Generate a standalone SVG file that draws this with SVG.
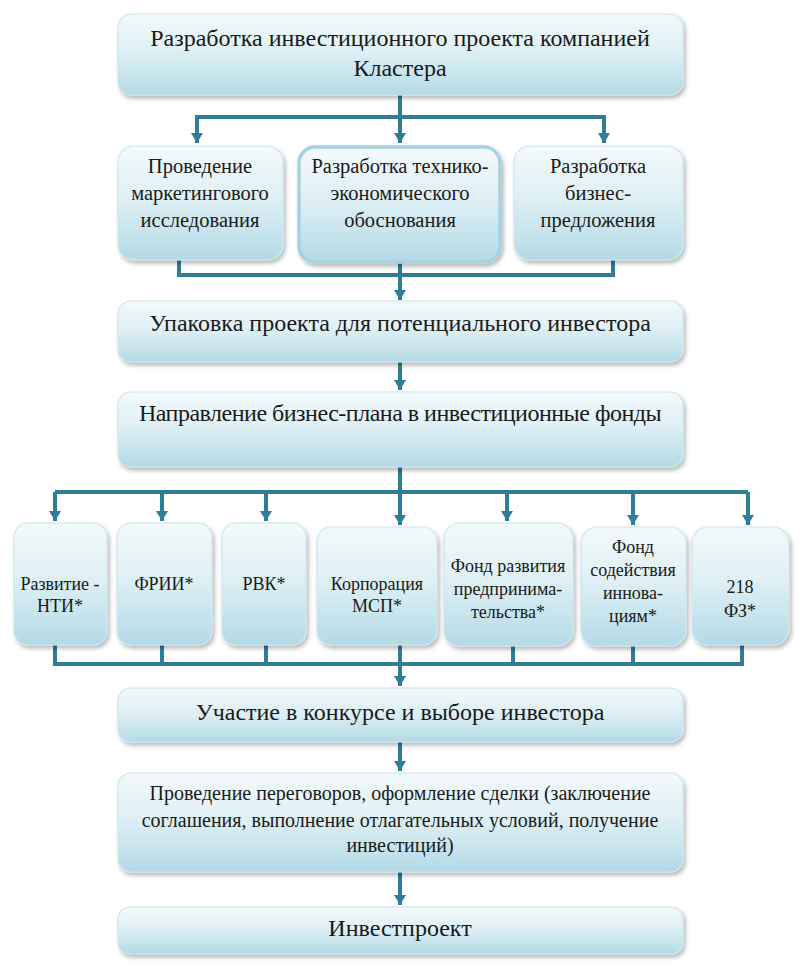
<svg xmlns="http://www.w3.org/2000/svg" width="800" height="977" viewBox="0 0 800 977">
<defs>
<linearGradient id="g" x1="0" y1="0" x2="0" y2="1">
<stop offset="0" stop-color="#f3f9fb"/>
<stop offset="0.45" stop-color="#dff0f5"/>
<stop offset="1" stop-color="#b3dae6"/>
</linearGradient>
<filter id="sh" x="-10%" y="-10%" width="125%" height="130%">
<feDropShadow dx="2" dy="3" stdDeviation="2" flood-color="#000" flood-opacity="0.28"/>
</filter>
<marker id="ar" viewBox="0 0 10 12" refX="10" refY="6" markerWidth="10" markerHeight="12" markerUnits="userSpaceOnUse" orient="auto">
<path d="M0,0 L10,6 L0,12 z" fill="#2f7d96"/>
</marker>
</defs>
<style>
.box{fill:url(#g);stroke:#cde6ee;stroke-width:1.2;filter:url(#sh)}
.boxb{fill:url(#g);stroke:#a6d2df;stroke-width:3.5;filter:url(#sh)}
text{font-family:"Liberation Serif","Noto Serif","DejaVu Serif","Tinos","FreeSerif",serif;fill:#1a1a1a;text-anchor:middle}
.big{font-size:24px}
.mid{font-size:20.5px}
.sm{font-size:18px}
.dl{font-size:20px}
.ln{fill:none;stroke:#2f7d96;stroke-width:4}
.ar{fill:none;stroke:#2f7d96;stroke-width:4;marker-end:url(#ar)}
</style>
<rect width="800" height="977" fill="#fff"/>

<g id="connectors">
<path class="ar" d="M400,95 V143"/>
<path class="ar" d="M400,117 H197 V143"/>
<path class="ar" d="M400,117 H604 V143"/>
<path class="ln" d="M179,260 V275 H613 V260"/>
<path class="ar" d="M400,262 V300"/>
<path class="ar" d="M400,362 V390"/>
<path class="ln" d="M400,467 V492"/>
<path class="ln" d="M55,492 H748"/>
<path class="ar" d="M55,492 V521"/>
<path class="ar" d="M162,492 V521"/>
<path class="ar" d="M266,492 V521"/>
<path class="ar" d="M400,492 V525"/>
<path class="ar" d="M507,492 V521"/>
<path class="ar" d="M633,492 V525"/>
<path class="ar" d="M748,492 V525"/>
<path class="ln" d="M55,645 V664 H742 V645"/>
<path class="ln" d="M162,645 V664"/>
<path class="ln" d="M266,645 V664"/>
<path class="ln" d="M513,645 V664"/>
<path class="ln" d="M633,645 V664"/>
<path class="ar" d="M400,645 V686"/>
<path class="ar" d="M400,742 V771"/>
<path class="ar" d="M400,872 V905"/>
</g>

<g id="n_top">
<rect class="box" x="118" y="14" width="565" height="81" rx="13"/>
<text class="big" x="400" y="46">Разработка инвестиционного проекта компанией</text>
<text class="big" x="400" y="76">Кластера</text>
</g>

<g id="n_market">
<rect class="box" x="118" y="146" width="165" height="114" rx="16"/>
<text class="mid" x="200" y="173">Проведение</text>
<text class="mid" x="200" y="200">маркетингового</text>
<text class="mid" x="200" y="227">исследования</text>
</g>

<g id="n_teo">
<rect class="boxb" x="299" y="147" width="201" height="115" rx="16"/>
<text class="mid" x="400" y="173">Разработка технико-</text>
<text class="mid" x="400" y="200">экономического</text>
<text class="mid" x="400" y="227">обоснования</text>
</g>

<g id="n_biz">
<rect class="box" x="514" y="146" width="169" height="114" rx="16"/>
<text class="mid" x="598" y="173">Разработка</text>
<text class="mid" x="598" y="200">бизнес-</text>
<text class="mid" x="598" y="227">предложения</text>
</g>

<g id="n_pack">
<rect class="box" x="118" y="301" width="565" height="61" rx="13"/>
<text class="big" x="400" y="331">Упаковка проекта для потенциального инвестора</text>
</g>

<g id="n_send">
<rect class="box" x="118" y="392" width="565" height="75" rx="13"/>
<text class="big" x="400" y="421" letter-spacing="-0.5">Направление бизнес-плана в инвестиционные фонды</text>
</g>

<g id="n_nti">
<rect class="box" x="14" y="523" width="93" height="122" rx="14"/>
<text class="sm" x="60" y="590">Развитие -</text>
<text class="sm" x="60" y="612">НТИ*</text>
</g>

<g id="n_frii">
<rect class="box" x="117" y="523" width="95" height="122" rx="14"/>
<text class="sm" x="164" y="590">ФРИИ*</text>
</g>

<g id="n_rvk">
<rect class="box" x="222" y="523" width="84" height="122" rx="14"/>
<text class="sm" x="264" y="590">РВК*</text>
</g>

<g id="n_msp">
<rect class="box" x="317" y="527" width="120" height="118" rx="14"/>
<text class="sm" x="377" y="590">Корпорация</text>
<text class="sm" x="377" y="612">МСП*</text>
</g>

<g id="n_fond_pred">
<rect class="box" x="444" y="523" width="129" height="123" rx="16"/>
<text class="sm" x="508" y="572">Фонд развития</text>
<text class="sm" x="508" y="595">предпринима-</text>
<text class="sm" x="508" y="618">тельства*</text>
</g>

<g id="n_fond_inn">
<rect class="box" x="581" y="527" width="105" height="119" rx="16"/>
<text class="sm" x="633" y="553">Фонд</text>
<text class="sm" x="633" y="576">содействия</text>
<text class="sm" x="633" y="599">иннова-</text>
<text class="sm" x="633" y="622">циям*</text>
</g>

<g id="n_218">
<rect class="box" x="692" y="527" width="97" height="118" rx="16"/>
<text class="sm" x="740" y="593">218</text>
<text class="sm" x="740" y="617">ФЗ*</text>
</g>

<g id="n_contest">
<rect class="box" x="118" y="688" width="565" height="54" rx="13"/>
<text class="big" x="400" y="720">Участие в конкурсе и выборе инвестора</text>
</g>

<g id="n_deal">
<rect class="box" x="118" y="773" width="565" height="99" rx="13"/>
<text class="dl" x="400" y="800">Проведение переговоров, оформление сделки (заключение</text>
<text class="dl" x="400" y="827">соглашения, выполнение отлагательных условий, получение</text>
<text class="dl" x="400" y="852">инвестиций)</text>
</g>

<g id="n_result">
<rect class="box" x="118" y="907" width="565" height="47" rx="12"/>
<text class="big" x="400" y="936">Инвестпроект</text>
</g>
</svg>
